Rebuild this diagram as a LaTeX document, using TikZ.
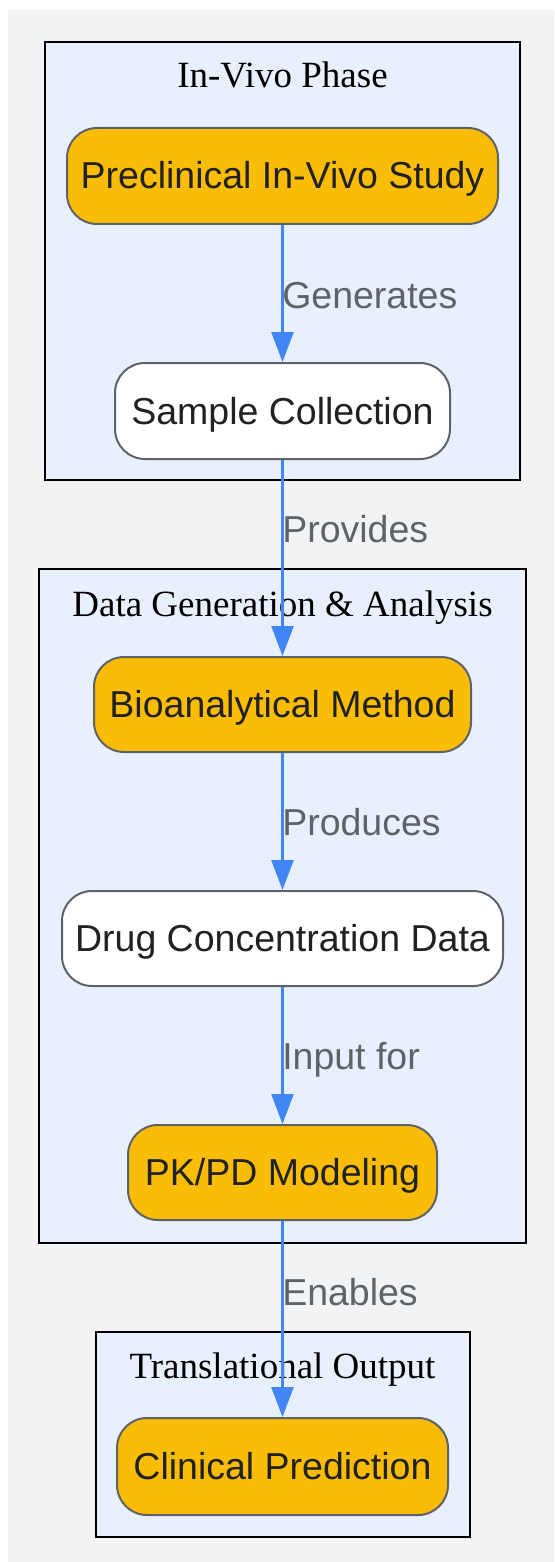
\documentclass[tikz,border=0pt]{standalone}
\usepackage{fontspec}
\setmainfont{Liberation Serif}
\newfontfamily\labelfont{Liberation Sans}
\usetikzlibrary{arrows.meta}
\definecolor{bggray}{HTML}{F1F3F4}
\definecolor{clusterfill}{HTML}{E8F0FE}
\definecolor{nodeorange}{HTML}{FBBC05}
\definecolor{nodeborder}{HTML}{5F6368}
\definecolor{edgeblue}{HTML}{4285F4}
\definecolor{labelgray}{HTML}{5F6368}
\definecolor{textdark}{HTML}{202124}
\tikzset{
  cluster/.style={fill=clusterfill, draw=black, line width=2.5pt},
  clustertitle/.style={font=\fontsize{37}{42}\selectfont, text=black, inner sep=0pt},
  procbox/.style={rounded corners=30pt, draw=nodeborder, line width=2pt, inner sep=0pt,
    font=\labelfont\fontsize{37.5}{42}\selectfont, text=textdark, text height=26pt, text depth=-3pt},
  orangebox/.style={procbox, fill=nodeorange},
  whitebox/.style={procbox, fill=white},
  edge/.style={draw=edgeblue, line width=2.5pt, -{Triangle[length=30pt,width=22pt]}},
  edgelabel/.style={font=\labelfont\fontsize{37.5}{42}\selectfont, text=labelgray, inner sep=0pt, anchor=base west, xshift=-1.5pt},
}
\begin{document}
\begin{tikzpicture}[x=1pt,y=-1pt]
\useasboundingbox (0,0) rectangle (554,1562);
\fill[bggray] (8,10) rectangle (554,1562);
% clusters
\draw[cluster] (45,42) rectangle (520,480);
\node[clustertitle, anchor=base] (t1) at (282.5,88) {In-Vivo Phase};
\draw[cluster] (39,569) rectangle (526,1243);
\node[clustertitle, anchor=base] (t2) at (282.5,616) {Data Generation \& Analysis};
\draw[cluster] (96,1332) rectangle (470,1537);
\node[clustertitle, anchor=base] (t3) at (282.5,1378) {Translational Output};
% nodes
\node[orangebox, minimum width=431pt, minimum height=96pt] (n1) at (282.5,176) {Preclinical In-Vivo Study};
\node[whitebox, minimum width=335pt, minimum height=96pt] (n2) at (282.5,411) {Sample Collection};
\node[orangebox, minimum width=377pt, minimum height=95pt] (n3) at (282.5,704.5) {Bioanalytical Method};
\node[whitebox, minimum width=441pt, minimum height=95pt] (n4) at (282.5,938.5) {Drug Concentration Data};
\node[orangebox, minimum width=309pt, minimum height=95pt] (n5) at (282.5,1172.5) {PK/PD Modeling};
\node[orangebox, minimum width=331pt, minimum height=97pt] (n6) at (282.5,1466.5) {Clinical Prediction};
% edges
\draw[edge] (n1.south) -- (n2.north) node[edgelabel, pos=0.612] (l1) {Generates};
\draw[edge] (n2.south) -- (n3.north) node[edgelabel, pos=0.419] (l2) {Provides};
\draw[edge] (n3.south) -- (n4.north) node[edgelabel, pos=0.604] (l3) {Produces};
\draw[edge] (n4.south) -- (n5.north) node[edgelabel, pos=0.604] (l4) {Input for};
\draw[edge] (n5.south) -- (n6.north) node[edgelabel, pos=0.429] (l5) {Enables};
\end{tikzpicture}
\end{document}
